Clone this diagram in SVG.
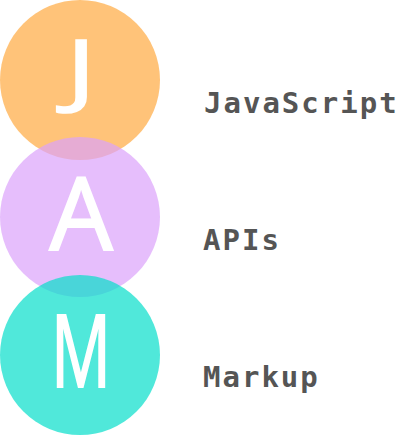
<svg xmlns="http://www.w3.org/2000/svg" width="400" height="436" viewBox="0 0 400 436">
<style>
.c{fill-opacity:0.7}
.big{font-family:"Open Sans","Noto Sans",sans-serif;font-size:100px;fill:#fff;stroke:#fff;stroke-width:2px;text-anchor:middle}
.lbl{font-family:"DejaVu Sans Mono",monospace;font-weight:bold;font-size:29px;fill:#555;letter-spacing:2px}
</style>
<rect width="400" height="436" fill="#fff"/>
<g id="node-j">
<circle class="c" cx="80" cy="80" r="80" fill="#FFAA40"/>
<text class="big" transform="translate(81,98) scale(1.12,0.81)">J</text>
<text class="lbl" x="204" y="113">JavaScript</text>
</g>
<g id="node-a">
<circle class="c" cx="80" cy="217" r="80" fill="#DBA2FB"/>
<text class="big" x="81" y="250">A</text>
<text class="lbl" x="203" y="250">APIs</text>
</g>
<g id="node-m">
<circle class="c" cx="80" cy="355" r="80" fill="#05DECA"/>
<text class="big" x="81" y="387" textLength="60" lengthAdjust="spacingAndGlyphs">M</text>
<text class="lbl" x="203" y="387">Markup</text>
</g>
<g id="connectors"></g>
</svg>
